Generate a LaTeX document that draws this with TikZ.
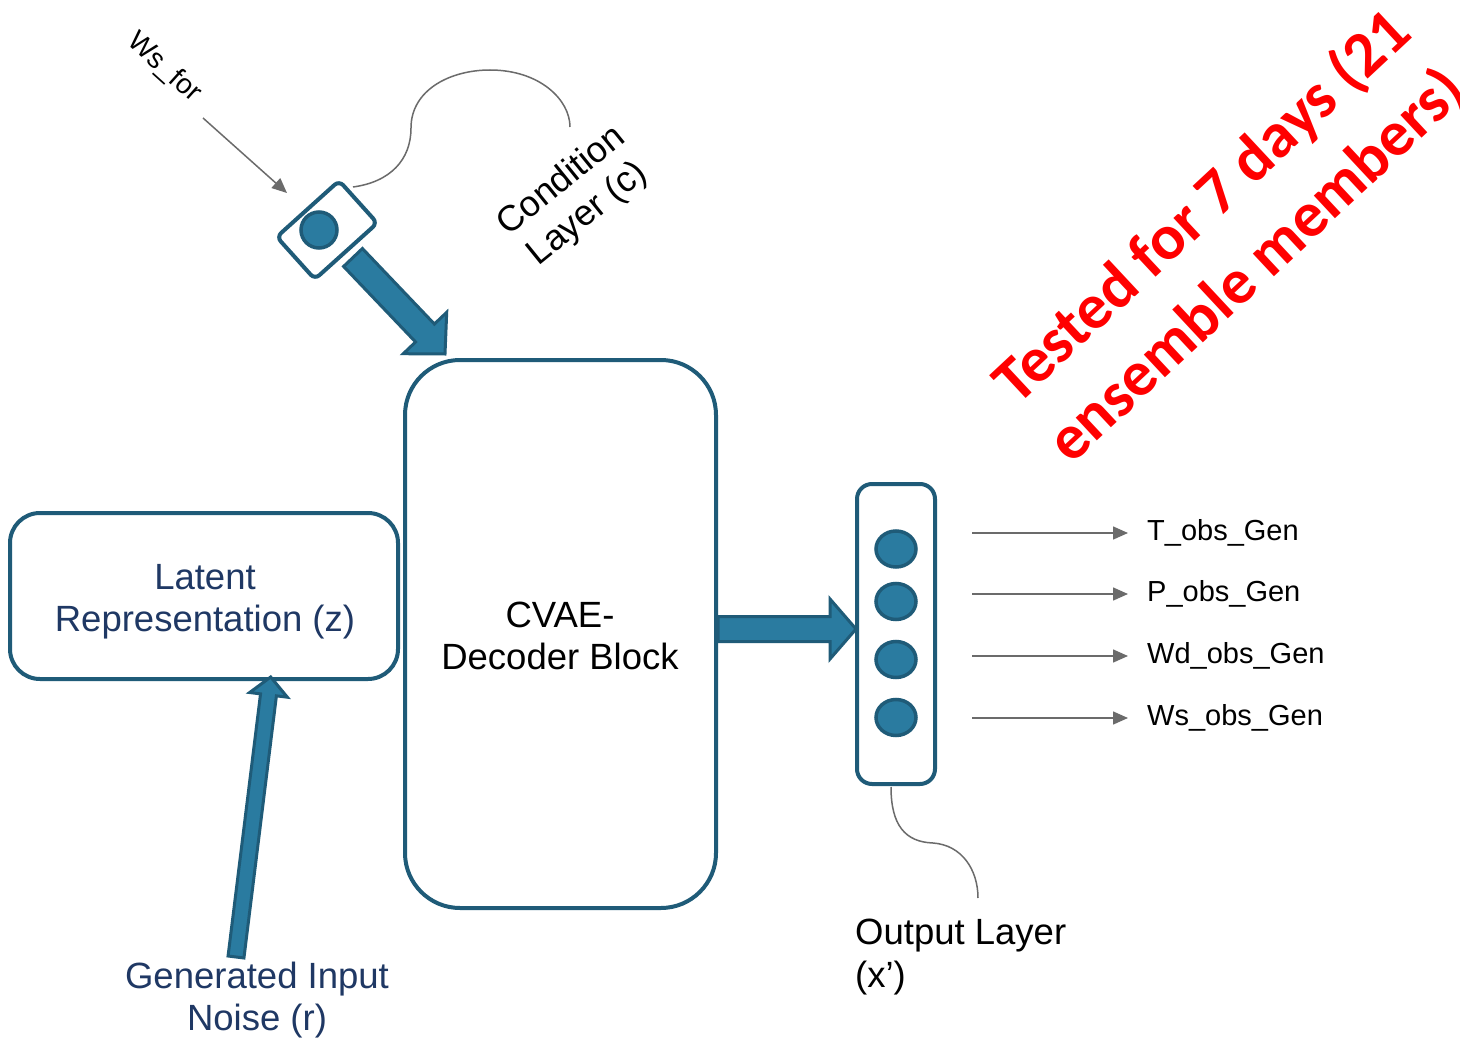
\documentclass[tikz,border=0pt]{standalone}
\usepackage{fontspec}
\setmainfont{Liberation Sans}
\newfontfamily\calibrifont{Carlito}
\usetikzlibrary{calc,arrows.meta,shapes.geometric}
\definecolor{edgec}{HTML}{1F5B78}
\definecolor{fillb}{HTML}{2A7BA0}
\definecolor{navy}{HTML}{1F3864}
\definecolor{grayline}{HTML}{6B6B6B}
% block arrow: #1 start, #2 tip, #3 shaft half width, #4 head half width, #5 head length
\newcommand\blockarr[5]{%
  \path (#2) coordinate (ba-E) ($(#2)!#5!(#1)$) coordinate (ba-H);
  \draw[blockarrow] ($(#1)!#3!90:(#2)$) -- ($(ba-H)!#3!-90:(#1)$) -- ($(ba-H)!#4!-90:(#1)$)
    -- (ba-E) -- ($(ba-H)!#4!90:(#1)$) -- ($(ba-H)!#3!90:(#1)$) -- ($(#1)!#3!-90:(#2)$) -- cycle;}
\begin{document}
\begin{tikzpicture}[x=1pt,y=-1pt,
  box/.style={draw=edgec, line width=4pt, fill=white, inner sep=0pt},
  neuron/.style={draw=edgec, fill=fillb, line width=3.5pt, ellipse, inner sep=0pt, minimum width=40pt, minimum height=36pt},
  blockarrow/.style={draw=edgec, fill=fillb, line width=3pt, line join=miter},
  thinarrow/.style={draw=grayline, line width=1.5pt, -{Triangle[length=15pt,width=13pt]}},
  callout/.style={draw=grayline, line width=1.5pt},
  bigtxt/.style={font=\fontsize{36.5}{42}\selectfont, align=center, inner sep=0pt},
  smalltxt/.style={font=\fontsize{29}{34}\selectfont, inner sep=0pt}
]
\fill[white] (0,0) rectangle (1460,1038);
\useasboundingbox (0,0) rectangle (1460,1038);

% main boxes
\node[box, minimum width=311pt, minimum height=548pt, rounded corners=55pt] (dec) at (560.5,634) {};
\node[box, minimum width=388pt, minimum height=166pt, rounded corners=30pt] (lat) at (204,596) {};
\node[box, minimum width=78pt, minimum height=300pt, rounded corners=15pt] (outbox) at (896,634) {};

\node[bigtxt, text=navy] (latt) at (205,602) {Latent\\Representation (z)};
\node[bigtxt] (dect) at (560,636) {CVAE-\\Decoder Block};

% output neurons
\node[neuron] (n1) at (896,549) {};
\node[neuron] (n2) at (896,601.5) {};
\node[neuron] (n3) at (896,659.5) {};
\node[neuron] (n4) at (896,717.5) {};

% condition node
\node[box, minimum width=84pt, minimum height=57pt, rounded corners=6pt, rotate=42] (cond) at (327,230) {};
\node[neuron, circle, minimum size=36pt] (condc) at (319,230) {};

% labels
\node[rotate=-42, font=\fontsize{28}{34}\selectfont, inner sep=0pt] (wsfor) at (164,68) {Ws\_for};
\node[rotate=39, bigtxt, font=\fontsize{36}{42}\selectfont] (condl) at (575,198) {Condition\\Layer (c)};
\node[bigtxt, text=navy] (noise) at (257,1000) {Generated Input\\Noise (r)};
\node[anchor=west, align=left, inner sep=0pt, font=\fontsize{36.5}{43}\selectfont] (outl) at (855,957) {Output Layer\\(x’)};
\node[rotate=43, text=red, inner sep=0pt, align=center, font={\calibrifont\bfseries\fontsize{64}{80}\selectfont}] (note) at (1230,237) {Tested for 7 days (21\\ensemble members)};

% block arrows
\coordinate (ca) at (353,257.5); \coordinate (cb) at (445,354);
\blockarr{ca}{cb}{13pt}{30pt}{29pt}
\coordinate (da) at (718,629); \coordinate (db) at (856,629);
\blockarr{da}{db}{12.5pt}{30pt}{26pt}
\coordinate (ra) at (236,957); \coordinate (rb) at (270.7,677);
\blockarr{ra}{rb}{8pt}{19pt}{18pt}

% ws_for arrow
\coordinate (wsa) at (203,118); \coordinate (wsb) at (287,193);
\draw[thinarrow] (wsa) -- (wsb);

% callout curves
\coordinate (cl1) at (353,187); \coordinate (cl2) at (570,127);
\draw[callout] (cl1) .. controls (390,182) and (411,160) .. (411,128)
  .. controls (411,90) and (450,70) .. (490,70)
  .. controls (540,70) and (570,100) .. (cl2);
\coordinate (ol1) at (891,787); \coordinate (ol2) at (978,898);
\draw[callout] (ol1) .. controls (891,825) and (905,842) .. (933,843)
  .. controls (962,845) and (978,870) .. (ol2);

% output arrows and labels
\foreach \i/\y/\t in {1/533/T\_obs\_Gen, 2/594/P\_obs\_Gen, 3/656/Wd\_obs\_Gen, 4/718/Ws\_obs\_Gen}{
  \coordinate (oa\i) at (972,\y);
  \coordinate (ob\i) at (1128,\y);
  \node[smalltxt, anchor=base west] (lab\i) at (1147,\y+7) {\t};
  \draw[thinarrow] (oa\i) -- (ob\i);
}
\end{tikzpicture}
\end{document}
